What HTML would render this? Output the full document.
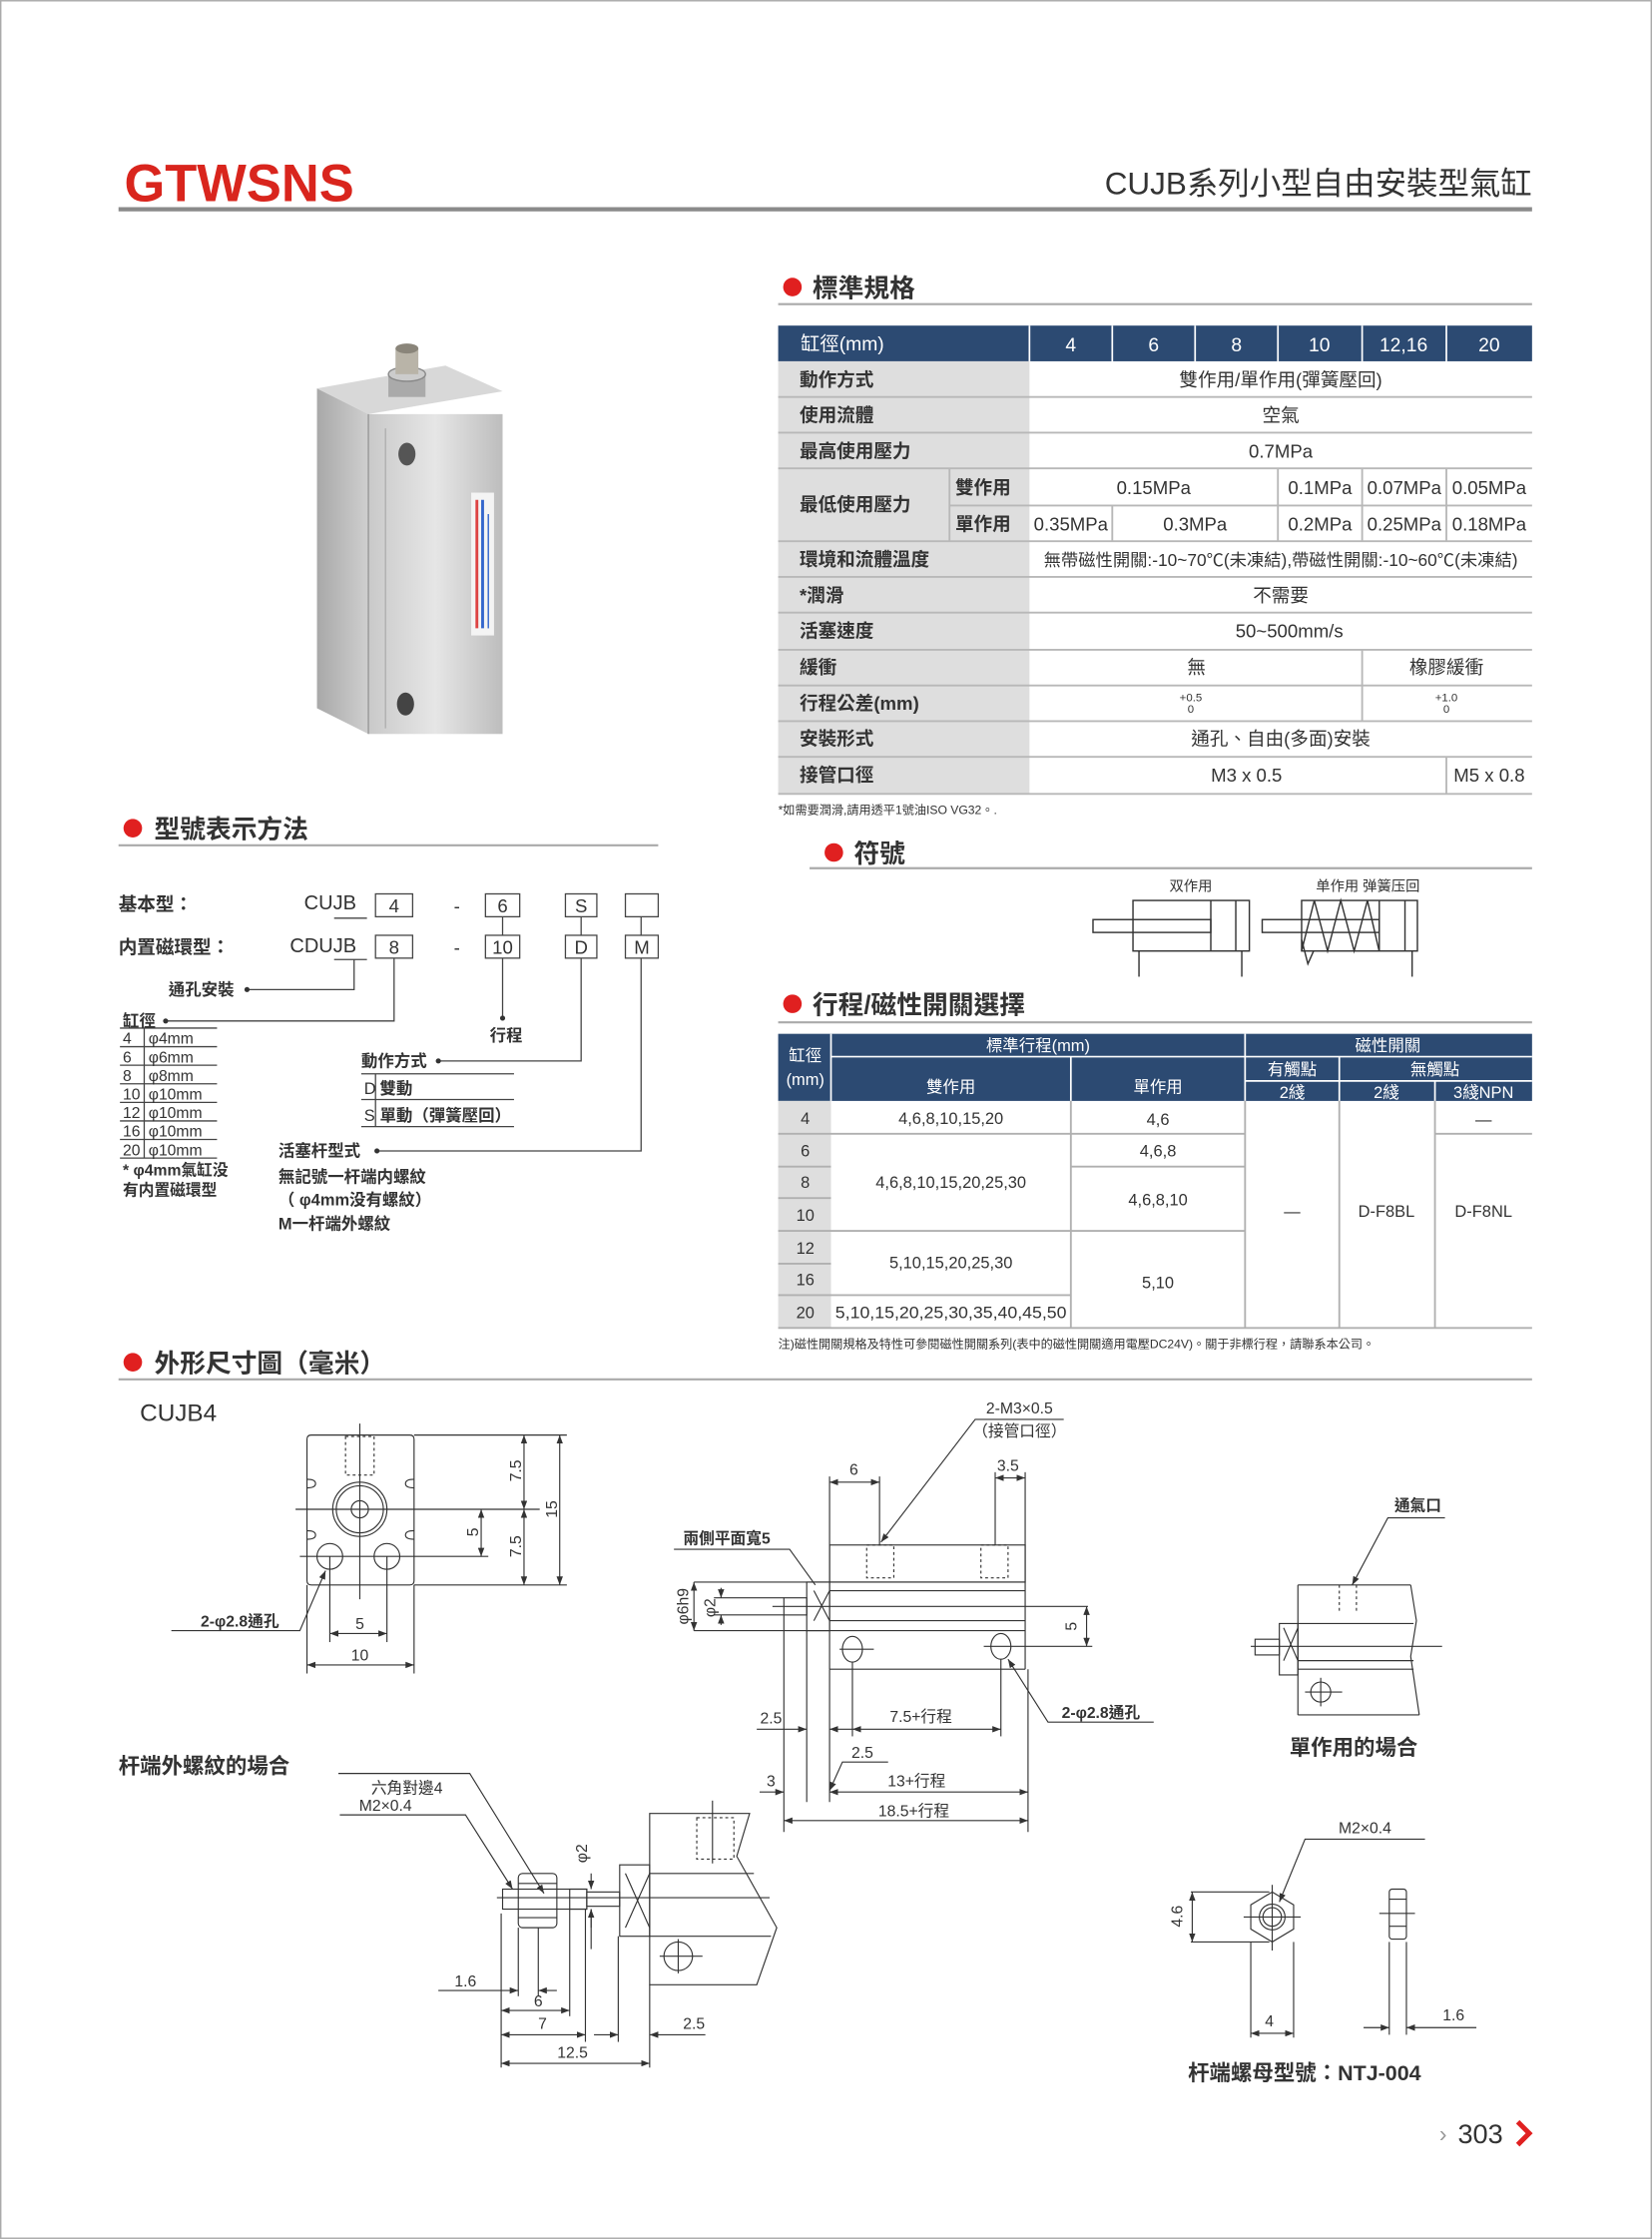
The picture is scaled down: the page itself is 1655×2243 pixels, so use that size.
<!DOCTYPE html>
<html><head><meta charset="utf-8"><style>
html,body{margin:0;padding:0;background:#fff;}
svg{display:block;}
text{font-family:"Liberation Sans","Noto Sans CJK TC",sans-serif;fill:#333;}
</style></head><body>
<svg xmlns="http://www.w3.org/2000/svg" width="1655" height="2243" viewBox="0 0 1157 1568">
<defs>
<marker id="a" viewBox="0 0 8 6" refX="8" refY="3" markerWidth="6" markerHeight="4.5" markerUnits="userSpaceOnUse" orient="auto-start-reverse"><path d="M0,0L8,3L0,6z" fill="#333"/></marker>
<linearGradient id="gf" x1="0" x2="1"><stop offset="0" stop-color="#c9c9c9"/><stop offset="0.5" stop-color="#e6e6e6"/><stop offset="1" stop-color="#bdbdbd"/></linearGradient>
<linearGradient id="gs" x1="0" x2="1"><stop offset="0" stop-color="#a8a8a8"/><stop offset="1" stop-color="#cfcfcf"/></linearGradient>
</defs>
<rect width="1157" height="1568" fill="#fff"/>
<rect x="0.5" y="0.5" width="1156" height="1567" fill="none" stroke="#aaa"/>

<!-- header -->
<text x="87" y="141" font-size="37" font-weight="bold" style="fill:#d9251d" textLength="161" lengthAdjust="spacingAndGlyphs">GTWSNS</text>
<text x="1073" y="136" font-size="22" text-anchor="end" fill="#222">CUJB系列小型自由安裝型氣缸</text>
<line x1="83" y1="146.5" x2="1073" y2="146.5" stroke="#8a8a8a" stroke-width="3"/>

<!-- section headings -->
<g font-size="18" font-weight="bold">
<circle cx="555" cy="201" r="6.5" fill="#e02020"/><text x="569" y="208">標準規格</text>
<circle cx="584" cy="597" r="6.5" fill="#e02020"/><text x="598" y="604">符號</text>
<circle cx="555" cy="703" r="6.5" fill="#e02020"/><text x="569" y="710">行程/磁性開關選擇</text>
<circle cx="93" cy="580" r="6.5" fill="#e02020"/><text x="108" y="587">型號表示方法</text>
<circle cx="93" cy="954" r="6.5" fill="#e02020"/><text x="108" y="961">外形尺寸圖（毫米）</text>
</g>
<g stroke="#aaa" stroke-width="1.5">
<line x1="545" y1="213" x2="1073" y2="213"/>
<line x1="567" y1="608" x2="1073" y2="608"/>
<line x1="545" y1="716" x2="1073" y2="716"/>
<line x1="83" y1="592" x2="461" y2="592"/>
<line x1="83" y1="966" x2="1073" y2="966"/>
</g>

<!-- product photo -->
<g>
<polygon points="222,272 258,290 258,514 222,496" fill="url(#gs)"/>
<polygon points="222,272 312,256 352,274 258,290" fill="#d8d8d8"/>
<rect x="258" y="290" width="94" height="224" fill="url(#gf)"/>
<line x1="258" y1="290" x2="258" y2="514" stroke="#999"/>
<line x1="270" y1="300" x2="270" y2="510" stroke="#b0b0b0"/>
<rect x="272" y="262" width="26" height="16" fill="#aaa"/>
<ellipse cx="285" cy="262" rx="13" ry="5" fill="#ccc" stroke="#888"/>
<rect x="277" y="244" width="16" height="18" fill="#b9b4a8"/>
<ellipse cx="285" cy="244" rx="8" ry="3.5" fill="#8a857a"/>
<ellipse cx="285" cy="318" rx="6" ry="8" fill="#555"/>
<ellipse cx="284" cy="493" rx="6" ry="8" fill="#444"/>
<rect x="330" y="345" width="16" height="100" fill="#f4f4f4"/>
<line x1="334" y1="350" x2="334" y2="440" stroke="#d44" stroke-width="2"/>
<line x1="338" y1="350" x2="338" y2="440" stroke="#36c" stroke-width="2"/>
<line x1="342" y1="360" x2="342" y2="440" stroke="#36c" stroke-width="1"/>
</g>

<!-- spec table -->
<rect x="545" y="228" width="528" height="25" fill="#2c4a72"/>
<rect x="545" y="253" width="176" height="303" fill="#dedede"/>
<g stroke="#fff" stroke-width="1.2">
<line x1="721" y1="228" x2="721" y2="253"/><line x1="779" y1="228" x2="779" y2="253"/><line x1="837" y1="228" x2="837" y2="253"/>
<line x1="895" y1="228" x2="895" y2="253"/><line x1="954" y1="228" x2="954" y2="253"/><line x1="1013" y1="228" x2="1013" y2="253"/>
</g>
<g stroke="#b8b8b8" stroke-width="1.3">
<line x1="545" y1="278" x2="1073" y2="278"/><line x1="545" y1="303" x2="1073" y2="303"/><line x1="545" y1="328" x2="1073" y2="328"/>
<line x1="665" y1="354" x2="1073" y2="354"/><line x1="545" y1="379" x2="1073" y2="379"/><line x1="545" y1="404" x2="1073" y2="404"/>
<line x1="545" y1="429" x2="1073" y2="429"/><line x1="545" y1="455" x2="1073" y2="455"/><line x1="545" y1="480" x2="1073" y2="480"/>
<line x1="545" y1="505" x2="1073" y2="505"/><line x1="545" y1="530" x2="1073" y2="530"/><line x1="545" y1="556" x2="1073" y2="556"/>
<line x1="665" y1="328" x2="665" y2="379"/>
<line x1="895" y1="328" x2="895" y2="379"/><line x1="954" y1="328" x2="954" y2="379"/><line x1="1013" y1="328" x2="1013" y2="379"/>
<line x1="779" y1="354" x2="779" y2="379"/>
<line x1="954" y1="455" x2="954" y2="505"/><line x1="1013" y1="530" x2="1013" y2="556"/>
</g>
<g font-size="13.5" text-anchor="middle">
<text x="590" y="245.5" style="fill:#fff">缸徑(mm)</text>
<text x="750" y="246" style="fill:#fff">4</text><text x="808" y="246" style="fill:#fff">6</text><text x="866" y="246" style="fill:#fff">8</text>
<text x="924" y="246" style="fill:#fff">10</text><text x="983" y="246" style="fill:#fff">12,16</text><text x="1043" y="246" style="fill:#fff">20</text>
</g>
<g font-size="13" font-weight="bold" fill="#333">
<text x="560" y="270.5">動作方式</text><text x="560" y="295.5">使用流體</text><text x="560" y="320.5">最高使用壓力</text>
<text x="560" y="358">最低使用壓力</text><text x="669" y="346">雙作用</text><text x="669" y="371.5">單作用</text>
<text x="560" y="396.5">環境和流體溫度</text><text x="560" y="421.5">*潤滑</text><text x="560" y="446.5">活塞速度</text>
<text x="560" y="472">緩衝</text><text x="560" y="497">行程公差(mm)</text><text x="560" y="522">安裝形式</text><text x="560" y="547.5">接管口徑</text>
</g>
<g font-size="13" text-anchor="middle" fill="#333">
<text x="897" y="270.5">雙作用/單作用(彈簧壓回)</text>
<text x="897" y="295.5">空氣</text>
<text x="897" y="320.5">0.7MPa</text>
<text x="808" y="346">0.15MPa</text><text x="924.5" y="346">0.1MPa</text><text x="983.5" y="346">0.07MPa</text><text x="1043" y="346">0.05MPa</text>
<text x="750" y="371.5">0.35MPa</text><text x="837" y="371.5">0.3MPa</text><text x="924.5" y="371.5">0.2MPa</text><text x="983.5" y="371.5">0.25MPa</text><text x="1043" y="371.5">0.18MPa</text>
<text x="897" y="396.5" font-size="12" textLength="332" lengthAdjust="spacingAndGlyphs">無帶磁性開關:-10~70℃(未凍結),帶磁性開關:-10~60℃(未凍結)</text>
<text x="897" y="421.5">不需要</text>
<text x="903" y="446.5">50~500mm/s</text>
<text x="838" y="472">無</text><text x="1013" y="472">橡膠緩衝</text>
<text x="834" y="491" font-size="8">+0.5</text><text x="834" y="499" font-size="8">0</text>
<text x="1013" y="491" font-size="8">+1.0</text><text x="1013" y="499" font-size="8">0</text>
<text x="897" y="522">通孔、自由(多面)安裝</text>
<text x="873" y="547.5">M3 x 0.5</text><text x="1043" y="547.5">M5 x 0.8</text>
</g>
<text x="545" y="570" font-size="8.5" fill="#444">*如需要潤滑,請用透平1號油ISO VG32。.</text>

<!-- symbols -->
<g stroke="#333" stroke-width="1" fill="none">
<rect x="793.5" y="630.6" width="81.5" height="35.4"/>
<line x1="848" y1="630.6" x2="848" y2="666"/><line x1="865.5" y1="630.6" x2="865.5" y2="666"/>
<rect x="765.5" y="644" width="82.5" height="9"/>
<line x1="797.7" y1="666" x2="797.7" y2="684"/><line x1="869.7" y1="666" x2="869.7" y2="684"/>
<rect x="911.6" y="630.6" width="81.1" height="35.4"/>
<line x1="966" y1="630.6" x2="966" y2="666"/><line x1="984" y1="630.6" x2="984" y2="666"/>
<rect x="884" y="644" width="82" height="9"/>
<polyline points="911.6,666 920.5,630.6 929.8,666 939,630.6 948.4,666 957.7,630.6 965.9,666"/>
<polyline points="911.6,658 916,675 920,666"/>
<line x1="989" y1="666" x2="989" y2="684"/>
</g>
<text x="834" y="624" font-size="10" text-anchor="middle" fill="#555">双作用</text>
<text x="958" y="624" font-size="10" text-anchor="middle" fill="#555">单作用 弹簧压回</text>

<!-- stroke/switch table -->
<rect x="545" y="724" width="528" height="47" fill="#2c4a72"/>
<rect x="545" y="771" width="37" height="159" fill="#dedede"/>
<g stroke="#fff" stroke-width="1.2">
<line x1="582" y1="724" x2="582" y2="771"/><line x1="582" y1="740" x2="1073" y2="740"/>
<line x1="872" y1="757" x2="1073" y2="757"/><line x1="750" y1="740" x2="750" y2="771"/>
<line x1="872" y1="724" x2="872" y2="771"/><line x1="938" y1="740" x2="938" y2="771"/><line x1="1005" y1="757" x2="1005" y2="771"/>
</g>
<g stroke="#b0b0b0" stroke-width="1.3">
<line x1="545" y1="794" x2="872" y2="794"/><line x1="1005" y1="794" x2="1073" y2="794"/>
<line x1="545" y1="817" x2="582" y2="817"/><line x1="750" y1="817" x2="872" y2="817"/>
<line x1="545" y1="839" x2="582" y2="839"/>
<line x1="545" y1="862" x2="872" y2="862"/>
<line x1="545" y1="885" x2="582" y2="885"/>
<line x1="545" y1="907" x2="750" y2="907"/>
<line x1="545" y1="930" x2="1073" y2="930"/>
<line x1="750" y1="771" x2="750" y2="930"/><line x1="872" y1="771" x2="872" y2="930"/>
<line x1="938" y1="771" x2="938" y2="930"/><line x1="1005" y1="771" x2="1005" y2="930"/>
</g>
<g font-size="11.5" text-anchor="middle">
<text x="564" y="743" style="fill:#fff">缸徑</text><text x="564" y="760" style="fill:#fff">(mm)</text>
<text x="727" y="736" style="fill:#fff">標準行程(mm)</text>
<text x="666" y="765" style="fill:#fff">雙作用</text><text x="811" y="765" style="fill:#fff">單作用</text>
<text x="972" y="736" style="fill:#fff">磁性開關</text>
<text x="905" y="753" style="fill:#fff">有觸點</text><text x="1005" y="753" style="fill:#fff">無觸點</text>
<text x="905" y="769" style="fill:#fff">2綫</text><text x="971" y="769" style="fill:#fff">2綫</text><text x="1039" y="769" style="fill:#fff">3綫NPN</text>
</g>
<g font-size="11.5" text-anchor="middle" fill="#333">
<text x="564" y="787">4</text><text x="564" y="810">6</text><text x="564" y="832">8</text><text x="564" y="855">10</text>
<text x="564" y="878">12</text><text x="564" y="900">16</text><text x="564" y="923">20</text>
<text x="666" y="787">4,6,8,10,15,20</text>
<text x="666" y="832">4,6,8,10,15,20,25,30</text>
<text x="666" y="888">5,10,15,20,25,30</text>
<text x="666" y="923" textLength="162" lengthAdjust="spacingAndGlyphs">5,10,15,20,25,30,35,40,45,50</text>
<text x="811" y="788">4,6</text><text x="811" y="810">4,6,8</text><text x="811" y="844">4,6,8,10</text><text x="811" y="902">5,10</text>
<text x="905" y="852">—</text><text x="971" y="852">D-F8BL</text><text x="1039" y="788">—</text><text x="1039" y="852">D-F8NL</text>
</g>
<text x="545" y="944" font-size="8.5" fill="#444">注)磁性開關規格及特性可參閱磁性開關系列(表中的磁性開關適用電壓DC24V)。關于非標行程，請聯系本公司。</text>

<!-- model code -->
<g font-size="13" fill="#333">
<text x="83" y="638" font-weight="bold">基本型：</text>
<text x="83" y="668" font-weight="bold">内置磁環型：</text>
<text x="213" y="637" font-size="14">CUJB</text>
<text x="203" y="667" font-size="14">CDUJB</text>
</g>
<g stroke="#444" stroke-width="0.9" fill="none">
<rect x="263" y="626" width="26" height="16"/><rect x="340" y="626" width="24" height="16"/>
<rect x="396" y="626" width="22" height="16"/><rect x="438" y="626" width="23" height="16"/>
<rect x="263" y="655" width="26" height="16"/><rect x="340" y="655" width="24" height="16"/>
<rect x="396" y="655" width="22" height="16"/><rect x="438" y="655" width="23" height="16"/>
<line x1="234" y1="643" x2="257" y2="643"/><line x1="234" y1="672" x2="257" y2="672"/>
<line x1="352" y1="642" x2="352" y2="655"/><line x1="407" y1="642" x2="407" y2="655"/><line x1="449" y1="642" x2="449" y2="655"/>
<polyline points="173,693 248,693 248,672"/>
<polyline points="116,715 276,715 276,671"/>
<line x1="352" y1="671" x2="352" y2="712"/>
<polyline points="307,743 407,743 407,671"/>
<polyline points="264,806 449,806 449,671"/>
<line x1="84" y1="720" x2="152" y2="720"/><line x1="84" y1="733" x2="152" y2="733"/><line x1="84" y1="746" x2="152" y2="746"/>
<line x1="84" y1="759" x2="152" y2="759"/><line x1="84" y1="772" x2="152" y2="772"/><line x1="84" y1="785" x2="152" y2="785"/>
<line x1="84" y1="798" x2="152" y2="798"/><line x1="84" y1="811" x2="152" y2="811"/>
<line x1="101" y1="720" x2="101" y2="811"/>
<line x1="253" y1="752" x2="360" y2="752"/><line x1="253" y1="770" x2="360" y2="770"/><line x1="253" y1="789" x2="360" y2="789"/>
<line x1="263" y1="752" x2="263" y2="789"/>
</g>
<g fill="#333"><circle cx="173" cy="693" r="1.8"/><circle cx="116" cy="715" r="1.8"/><circle cx="352" cy="713" r="1.8"/><circle cx="307" cy="743" r="1.8"/><circle cx="264" cy="806" r="1.8"/></g>
<g font-size="13" text-anchor="middle" fill="#333">
<text x="276" y="639">4</text><text x="320" y="639">-</text><text x="352" y="639">6</text><text x="407" y="639">S</text>
<text x="276" y="668">8</text><text x="320" y="668">-</text><text x="352" y="668">10</text><text x="407" y="668">D</text><text x="449.5" y="668">M</text>
</g>
<g font-size="11.5" fill="#333" font-weight="bold">
<text x="118" y="697">通孔安裝</text>
<text x="86" y="719">缸徑</text>
<text x="343" y="729">行程</text>
<text x="253" y="747">動作方式</text>
<text x="255" y="766" font-weight="normal">D</text><text x="266" y="766">雙動</text>
<text x="255" y="785" font-weight="normal">S</text><text x="266" y="785">單動（彈簧壓回）</text>
<text x="195" y="810">活塞杆型式</text>
<text x="195" y="828">無記號一杆端内螺紋</text>
<text x="195" y="844">（ φ4mm没有螺紋）</text>
<text x="195" y="861">M一杆端外螺紋</text>
</g>
<g font-size="11" fill="#333">
<text x="86" y="731">4</text><text x="104" y="731">φ4mm</text>
<text x="86" y="744">6</text><text x="104" y="744">φ6mm</text>
<text x="86" y="757">8</text><text x="104" y="757">φ8mm</text>
<text x="86" y="770">10</text><text x="104" y="770">φ10mm</text>
<text x="86" y="783">12</text><text x="104" y="783">φ10mm</text>
<text x="86" y="796">16</text><text x="104" y="796">φ10mm</text>
<text x="86" y="809">20</text><text x="104" y="809">φ10mm</text>
<text x="86" y="823" font-weight="bold">* φ4mm氣缸没</text>
<text x="86" y="837" font-weight="bold">有内置磁環型</text>
</g>

<!-- CUJB4 drawings -->
<text x="98" y="995" font-size="17" fill="#333">CUJB4</text>
<g stroke="#333" stroke-width="0.8" fill="none">
<path d="M218,1005 H287 Q290,1005 290,1008 V1107 Q290,1110 287,1110 H218 Q215,1110 215,1107 V1008 Q215,1005 218,1005 Z"/>
<path d="M215,1036 q6,0 6,3 q0,3 -6,3 M290,1036 q-6,0 -6,3 q0,3 6,3 M215,1072 q6,0 6,3 q0,3 -6,3 M290,1072 q-6,0 -6,3 q0,3 6,3"/>
<circle cx="252" cy="1057" r="19"/><circle cx="252" cy="1057" r="16.5"/><circle cx="252" cy="1057" r="6"/>
<circle cx="231" cy="1090" r="9"/><circle cx="271" cy="1090" r="9"/>
<rect x="242" y="1006" width="20" height="27" stroke-dasharray="2,2"/>
<line x1="252" y1="997" x2="252" y2="1120"/>
<line x1="207" y1="1057" x2="378" y2="1057"/>
<line x1="210" y1="1090" x2="342" y2="1090"/>
<line x1="290" y1="1005" x2="397" y2="1005"/><line x1="290" y1="1110" x2="397" y2="1110"/>
<line x1="367" y1="1005" x2="367" y2="1057" marker-start="url(#a)" marker-end="url(#a)"/>
<line x1="367" y1="1057" x2="367" y2="1110" marker-start="url(#a)" marker-end="url(#a)"/>
<line x1="392" y1="1005" x2="392" y2="1110" marker-start="url(#a)" marker-end="url(#a)"/>
<line x1="337" y1="1057" x2="337" y2="1090" marker-start="url(#a)" marker-end="url(#a)"/>
<line x1="231" y1="1090" x2="231" y2="1150"/><line x1="271" y1="1090" x2="271" y2="1150"/>
<line x1="215" y1="1110" x2="215" y2="1172"/><line x1="290" y1="1110" x2="290" y2="1172"/>
<line x1="231" y1="1144" x2="271" y2="1144" marker-start="url(#a)" marker-end="url(#a)"/>
<line x1="215" y1="1166" x2="290" y2="1166" marker-start="url(#a)" marker-end="url(#a)"/>
<polyline points="120,1142 210,1142 228,1100" marker-end="url(#a)"/>

<rect x="581" y="1082" width="137" height="26"/>
<rect x="607" y="1082" width="19" height="23" stroke-dasharray="2,2"/>
<rect x="687" y="1082" width="19" height="23" stroke-dasharray="2,2"/>
<line x1="486" y1="1108" x2="718" y2="1108"/>
<line x1="581" y1="1114" x2="718" y2="1114"/>
<line x1="581" y1="1135" x2="718" y2="1135"/>
<line x1="486" y1="1142" x2="718" y2="1142"/>
<line x1="581" y1="1169" x2="718" y2="1169"/>
<line x1="581" y1="1082" x2="581" y2="1169"/><line x1="718" y1="1082" x2="718" y2="1169"/>
<rect x="565" y="1108" width="16" height="34"/>
<path d="M570,1114 L581,1135 M570,1135 L581,1114"/>
<rect x="549" y="1119" width="16" height="12"/>
<line x1="541" y1="1125" x2="762" y2="1125"/>
<ellipse cx="597" cy="1155" rx="7" ry="9"/><ellipse cx="701" cy="1153" rx="7" ry="9"/>
<line x1="588" y1="1155" x2="612" y2="1155"/><line x1="689" y1="1153" x2="765" y2="1153"/>
<line x1="761" y1="1125" x2="761" y2="1153" marker-start="url(#a)" marker-end="url(#a)"/>
<line x1="486" y1="1108" x2="486" y2="1142" marker-start="url(#a)" marker-end="url(#a)"/>
<line x1="505" y1="1112" x2="505" y2="1119" marker-end="url(#a)"/><line x1="505" y1="1138" x2="505" y2="1131" marker-end="url(#a)"/>
<line x1="500" y1="1119" x2="549" y2="1119"/><line x1="500" y1="1131" x2="549" y2="1131"/>
<line x1="581" y1="1034" x2="581" y2="1082"/><line x1="616" y1="1034" x2="616" y2="1082"/>
<line x1="697" y1="1031" x2="697" y2="1082"/><line x1="718" y1="1031" x2="718" y2="1082"/>
<line x1="581" y1="1038" x2="616" y2="1038" marker-start="url(#a)" marker-end="url(#a)"/>
<line x1="697" y1="1035" x2="718" y2="1035" marker-start="url(#a)" marker-end="url(#a)"/>
<polyline points="745,994 683,994 617,1080" marker-end="url(#a)"/>
<polyline points="472,1085 553,1085 571,1110"/>
<line x1="549" y1="1131" x2="549" y2="1283"/><line x1="565" y1="1142" x2="565" y2="1262"/>
<line x1="581" y1="1169" x2="581" y2="1262"/><line x1="597" y1="1164" x2="597" y2="1216"/>
<line x1="701" y1="1162" x2="701" y2="1216"/><line x1="720" y1="1169" x2="720" y2="1283"/>
<line x1="530" y1="1211" x2="565" y2="1211" marker-end="url(#a)"/>
<line x1="581" y1="1211" x2="597" y2="1211" marker-start="url(#a)"/>
<line x1="597" y1="1211" x2="701" y2="1211" marker-start="url(#a)" marker-end="url(#a)"/>
<polyline points="808,1206 734,1206 706,1162" marker-end="url(#a)"/>
<polyline points="622,1234 590,1234 581,1254" marker-end="url(#a)"/>
<line x1="532" y1="1255" x2="549" y2="1255" marker-end="url(#a)"/>
<line x1="581" y1="1255" x2="720" y2="1255" marker-start="url(#a)" marker-end="url(#a)"/>
<line x1="549" y1="1275" x2="720" y2="1275" marker-start="url(#a)" marker-end="url(#a)"/>

<line x1="909" y1="1110" x2="988" y2="1110"/>
<path d="M988,1110 L992,1135 L988,1160 L994,1201"/>
<line x1="909" y1="1110" x2="909" y2="1201"/><line x1="909" y1="1201" x2="994" y2="1201"/>
<line x1="938" y1="1110" x2="938" y2="1130" stroke-dasharray="2,2"/><line x1="950" y1="1110" x2="950" y2="1130" stroke-dasharray="2,2"/>
<line x1="909" y1="1137" x2="990" y2="1137"/><line x1="909" y1="1163" x2="990" y2="1163"/><line x1="909" y1="1169" x2="990" y2="1169"/>
<line x1="876" y1="1153" x2="1010" y2="1153"/>
<rect x="896" y="1137" width="13" height="36"/>
<path d="M899,1140 L909,1163 M899,1163 L909,1140"/>
<rect x="879" y="1148" width="17" height="11"/>
<circle cx="925" cy="1185" r="7"/><line x1="914" y1="1185" x2="940" y2="1185"/><line x1="925" y1="1175" x2="925" y2="1195"/>
<polyline points="1012,1063 972,1063 947,1110" marker-end="url(#a)"/>

<polyline points="237,1242 329,1242 381,1326" marker-end="url(#a)"/>
<polyline points="238,1271 326,1271 359,1323" marker-end="url(#a)"/>
<rect x="363" y="1312" width="27" height="38" rx="3"/>
<line x1="363" y1="1319" x2="390" y2="1319"/><line x1="363" y1="1343" x2="390" y2="1343"/>
<rect x="352" y="1323" width="59" height="14"/>
<rect x="399" y="1323" width="12" height="14"/>
<rect x="411" y="1325" width="23" height="10"/>
<rect x="434" y="1306" width="21" height="50"/>
<path d="M438,1312 L455,1350 M438,1350 L455,1312"/>
<path d="M455,1270 L525,1270 L516,1300 L544,1350 L530,1390 L455,1390 Z"/>
<line x1="455" y1="1312" x2="528" y2="1312"/><line x1="455" y1="1356" x2="540" y2="1356"/>
<line x1="348" y1="1329" x2="539" y2="1329"/>
<rect x="488" y="1273" width="26" height="29" stroke-dasharray="2,2"/>
<line x1="499" y1="1261" x2="499" y2="1305"/>
<circle cx="475" cy="1370" r="10"/><line x1="462" y1="1370" x2="492" y2="1370"/><line x1="475" y1="1358" x2="475" y2="1382"/>
<line x1="414" y1="1312" x2="414" y2="1323" marker-end="url(#a)"/><line x1="414" y1="1350" x2="414" y2="1337" marker-end="url(#a)"/>
<line x1="414" y1="1337" x2="414" y2="1365"/>
<line x1="351" y1="1340" x2="351" y2="1448"/><line x1="363" y1="1350" x2="363" y2="1398"/>
<line x1="377" y1="1350" x2="377" y2="1398"/><line x1="399" y1="1337" x2="399" y2="1412"/>
<line x1="410" y1="1337" x2="410" y2="1430"/><line x1="433" y1="1356" x2="433" y2="1430"/>
<line x1="455" y1="1390" x2="455" y2="1448"/>
<line x1="307" y1="1394" x2="363" y2="1394" marker-end="url(#a)"/>
<line x1="390" y1="1394" x2="377" y2="1394" marker-end="url(#a)"/>
<line x1="351" y1="1408" x2="399" y2="1408" marker-start="url(#a)" marker-end="url(#a)"/>
<line x1="351" y1="1425" x2="410" y2="1425" marker-start="url(#a)" marker-end="url(#a)"/>
<line x1="416" y1="1425" x2="433" y2="1425" marker-end="url(#a)"/>
<line x1="494" y1="1425" x2="455" y2="1425" marker-end="url(#a)"/>
<line x1="351" y1="1445" x2="455" y2="1445" marker-start="url(#a)" marker-end="url(#a)"/>

<polyline points="998,1288 914,1288 896,1332" marker-end="url(#a)"/>
<polygon points="891,1325 906,1334 906,1351 891,1360 876,1351 876,1334"/>
<circle cx="891" cy="1342.5" r="9"/><circle cx="891" cy="1342.5" r="6.5"/>
<line x1="871" y1="1342.5" x2="911" y2="1342.5"/><line x1="891" y1="1320" x2="891" y2="1366"/>
<line x1="834" y1="1325" x2="889" y2="1325"/><line x1="834" y1="1360" x2="889" y2="1360"/>
<line x1="835" y1="1325" x2="835" y2="1360" marker-start="url(#a)" marker-end="url(#a)"/>
<line x1="876" y1="1360" x2="876" y2="1427"/><line x1="906" y1="1360" x2="906" y2="1427"/>
<line x1="876" y1="1424" x2="906" y2="1424" marker-start="url(#a)" marker-end="url(#a)"/>
<rect x="973" y="1323" width="12" height="35" rx="2"/>
<line x1="973" y1="1330" x2="985" y2="1330"/><line x1="973" y1="1349" x2="985" y2="1349"/>
<line x1="966" y1="1340" x2="991" y2="1340"/>
<line x1="973" y1="1360" x2="973" y2="1425"/><line x1="985" y1="1360" x2="985" y2="1425"/>
<line x1="955" y1="1420" x2="973" y2="1420" marker-end="url(#a)"/>
<line x1="1034" y1="1420" x2="985" y2="1420" marker-end="url(#a)"/>
</g>
<g font-size="11" fill="#333" text-anchor="middle">
<text transform="translate(365,1030) rotate(-90)">7.5</text>
<text transform="translate(365,1083) rotate(-90)">7.5</text>
<text transform="translate(390,1057) rotate(-90)">15</text>
<text transform="translate(335,1073) rotate(-90)">5</text>
<text x="252" y="1141">5</text><text x="252" y="1163">10</text>
<text x="168" y="1139" font-weight="bold">2-φ2.8通孔</text>
<text x="598" y="1033">6</text><text x="706" y="1030">3.5</text>
<text x="714" y="990">2-M3×0.5</text><text x="714" y="1006">（接管口徑）</text>
<text x="509" y="1081" font-weight="bold">兩側平面寬5</text>
<text transform="translate(482,1125) rotate(-90)">φ6h9</text>
<text transform="translate(501,1126) rotate(-90)">φ2</text>
<text transform="translate(754,1139) rotate(-90)">5</text>
<text x="540" y="1207">2.5</text><text x="645" y="1206">7.5+行程</text>
<text x="771" y="1203" font-weight="bold">2-φ2.8通孔</text>
<text x="604" y="1231">2.5</text><text x="540" y="1251">3</text>
<text x="642" y="1251">13+行程</text><text x="640" y="1272">18.5+行程</text>
<text x="993" y="1058" font-weight="bold">通氣口</text>
<text x="285" y="1256">六角對邊4</text><text x="270" y="1268">M2×0.4</text>
<text transform="translate(411,1298) rotate(-90)">φ2</text>
<text x="326" y="1391">1.6</text><text x="377" y="1405">6</text><text x="380" y="1421">7</text>
<text x="486" y="1421">2.5</text><text x="401" y="1441">12.5</text>
<text x="956" y="1284">M2×0.4</text>
<text transform="translate(828,1342) rotate(-90)">4.6</text>
<text x="889" y="1419">4</text><text x="1018" y="1415">1.6</text>
</g>
<text x="948" y="1229" font-size="15" text-anchor="middle" fill="#333" font-weight="bold">單作用的場合</text>
<text x="83" y="1242" font-size="15" fill="#333" font-weight="bold">杆端外螺紋的場合</text>
<text x="832" y="1457" font-size="15" fill="#333" font-weight="bold">杆端螺母型號：NTJ-004</text>

<text x="1008" y="1500" font-size="16" style="fill:#999">›</text>
<text x="1021" y="1501" font-size="19" fill="#333">303</text>
<path d="M1063,1486 L1071,1494 L1063,1502" stroke="#e02020" stroke-width="3.5" fill="none"/>
</svg>
</body></html>
